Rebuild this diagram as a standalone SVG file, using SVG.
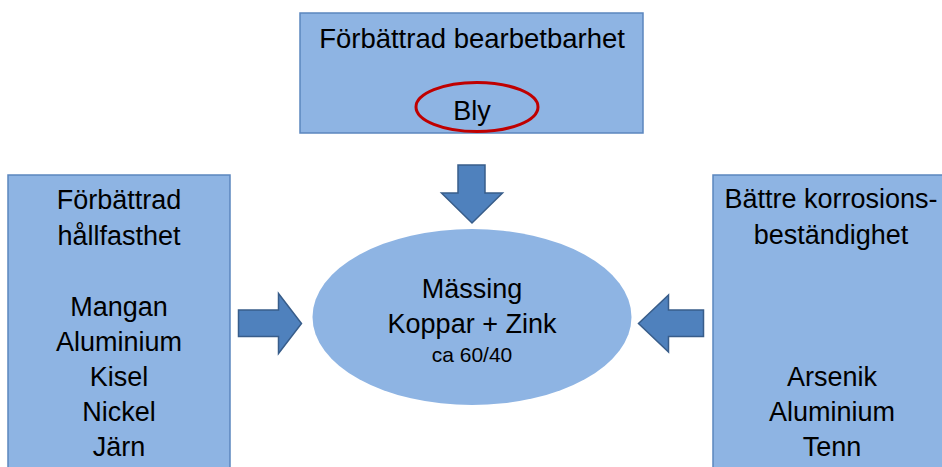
<svg xmlns="http://www.w3.org/2000/svg" width="942" height="467" viewBox="0 0 942 467">
<style>
.box{fill:#8EB4E3;stroke:#5B86BE;stroke-width:1.5}
.arrow{fill:#4F81BD;stroke:#385D8A;stroke-width:1.5}
.t{font-family:"Liberation Sans",Arial,sans-serif;font-size:27px;fill:#000;text-anchor:middle}
.s{font-size:21px}
</style>
<rect width="942" height="467" fill="#fff"/>
<g id="top-box">
<rect class="box" x="300" y="13" width="343" height="120"/>
<text class="t" x="472" y="48" style="font-size:27.5px">Förbättrad bearbetbarhet</text>
<ellipse cx="477" cy="107" rx="61" ry="24.5" fill="none" stroke="#C00000" stroke-width="3"/>
<text class="t" x="472" y="120">Bly</text>
</g>
<g id="left-box">
<rect class="box" x="8" y="175" width="222" height="300"/>
<text class="t" x="119" y="209">Förbättrad</text>
<text class="t" x="119" y="245">hållfasthet</text>
<text class="t" x="119" y="316">Mangan</text>
<text class="t" x="119" y="351">Aluminium</text>
<text class="t" x="119" y="386">Kisel</text>
<text class="t" x="119" y="421">Nickel</text>
<text class="t" x="119" y="456">Järn</text>
</g>
<g id="right-box">
<rect class="box" x="713" y="175" width="250" height="300"/>
<text class="t" x="831" y="208">Bättre korrosions-</text>
<text class="t" x="831" y="244">beständighet</text>
<text class="t" x="832" y="386">Arsenik</text>
<text class="t" x="832" y="421">Aluminium</text>
<text class="t" x="832" y="456">Tenn</text>
</g>
<g id="center">
<ellipse cx="472" cy="317" rx="159.5" ry="88" fill="#8EB4E3"/>
<text class="t" x="472" y="298">Mässing</text>
<text class="t" x="472" y="333">Koppar + Zink</text>
<text class="t s" x="472" y="362">ca 60/40</text>
</g>
<g id="connectors">
<polygon class="arrow" points="458,165 485,165 485,193 502.5,193 472,223 441.5,193 458,193"/>
<polygon class="arrow" points="238.5,310 278.5,310 278.5,293.5 301.5,323.5 278.5,353.5 278.5,336.5 238.5,336.5"/>
<polygon class="arrow" points="703.5,310 668.5,310 668.5,295 638.5,323.5 668.5,352 668.5,336.5 703.5,336.5"/>
</g>
</svg>
